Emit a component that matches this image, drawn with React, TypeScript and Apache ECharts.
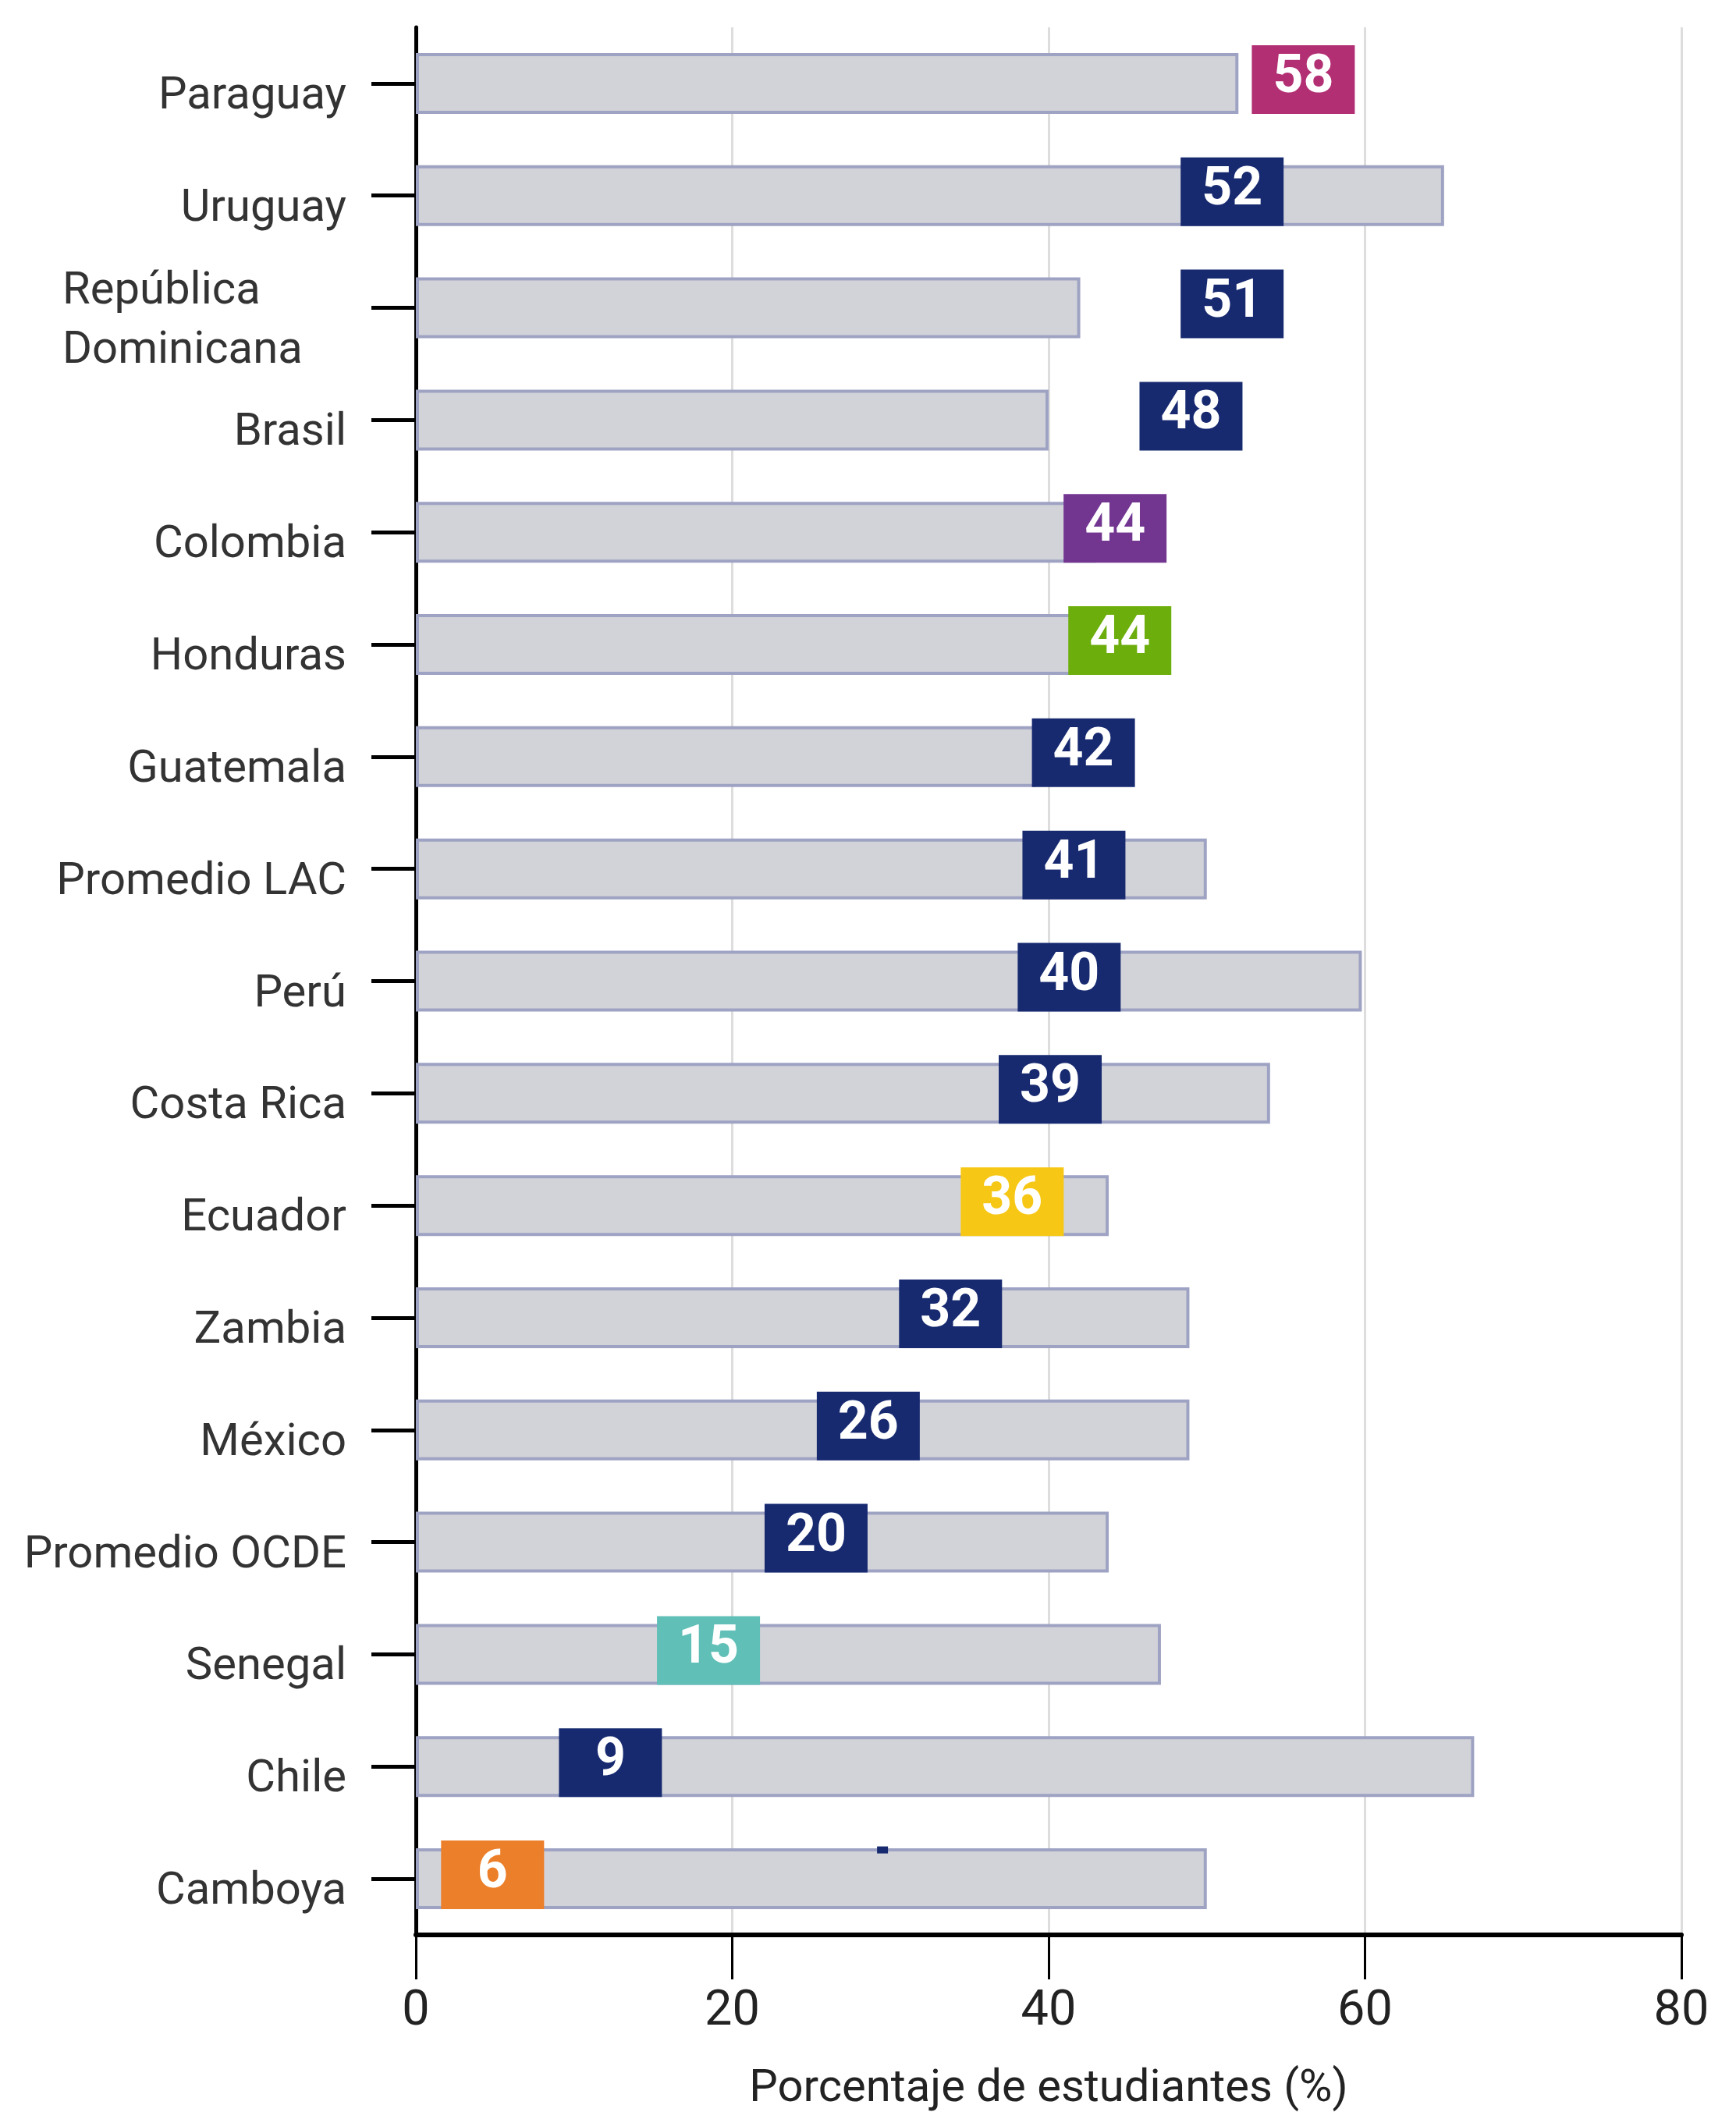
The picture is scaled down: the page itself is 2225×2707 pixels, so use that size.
import React, { useEffect, useRef } from "react";
import * as echarts from "echarts";

const categories = [
  "Paraguay",
  "Uruguay",
  "República\nDominicana",
  "Brasil",
  "Colombia",
  "Honduras",
  "Guatemala",
  "Promedio LAC",
  "Perú",
  "Costa Rica",
  "Ecuador",
  "Zambia",
  "México",
  "Promedio OCDE",
  "Senegal",
  "Chile",
  "Camboya",
];

const barValues = [52, 65, 42, 40, 43, 43, 39.2, 50, 59.8, 54, 43.8, 48.9, 48.9, 43.8, 47.1, 66.9, 50];

const labelValues = [58, 52, 51, 48, 44, 44, 42, 41, 40, 39, 36, 32, 26, 20, 15, 9, 6];

const labelPositions = [56.1, 51.6, 51.6, 49.0, 44.2, 44.5, 42.2, 41.6, 41.3, 40.1, 37.7, 33.8, 28.6, 25.3, 18.5, 12.3, 4.85];

const labelGroups = [
  "magenta", "navy", "navy", "navy", "purple", "green", "navy", "navy", "navy",
  "navy", "yellow", "navy", "navy", "navy", "teal", "navy", "orange",
];

const xTicks = [0, 20, 40, 60, 80];

const markCategory = "Camboya";
const markValue = 29.5;

const groupColors: Record<string, string> = {
  navy: "#172a70",
  magenta: "#b22f74",
  purple: "#723691",
  green: "#6cae0c",
  yellow: "#f7c716",
  teal: "#60bfb6",
  orange: "#ec7f2a",
};

export default function App() {
  const ref = useRef<HTMLDivElement>(null);

  useEffect(() => {
    if (!ref.current) return;
    const chart = echarts.init(ref.current, null, { renderer: "svg" });

    const option = {
      animation: false,
      backgroundColor: "#ffffff",
      grid: { left: 533, right: 70, top: 35, bottom: 227, containLabel: false },
      xAxis: {
        type: "value",
        min: xTicks[0],
        max: xTicks[xTicks.length - 1],
        interval: xTicks[1] - xTicks[0],
        name: "Porcentaje de estudiantes (%)",
        nameLocation: "middle",
        nameGap: 164,
        nameTextStyle: { fontFamily: "Roboto", fontSize: 58, color: "#222222" },
        axisLine: { show: true, lineStyle: { color: "#000000", width: 6 } },
        axisTick: { show: true, length: 57, lineStyle: { color: "#000000", width: 3 } },
        axisLabel: { margin: 62, fontFamily: "Roboto", fontSize: 63, color: "#222222" },
        splitLine: { show: true, lineStyle: { color: "#dddddd", width: 3 } },
      },
      yAxis: {
        type: "category",
        inverse: true,
        data: categories,
        axisLine: { show: true, lineStyle: { color: "#000000", width: 5 } },
        axisTick: { show: true, alignWithLabel: true, length: 57, lineStyle: { color: "#000000", width: 5 } },
        splitLine: { show: false },
        axisLabel: {
          margin: 89,
          padding: [24, 0, 0, 0],
          fontFamily: "Roboto",
          fontSize: 58,
          color: "#333333",
          formatter: (v: string) =>
            v.indexOf("\n") >= 0
              ? v.split("\n").map((s) => `{rd|${s}}`).join("\n")
              : v,
          rich: {
            rd: {
              width: 364,
              align: "left",
              fontFamily: "Roboto",
              fontSize: 58,
              lineHeight: 76,
              color: "#333333",
            },
          },
        },
      },
      series: [
        {
          type: "bar",
          data: barValues,
          barWidth: 78,
          itemStyle: { color: "#d2d3d8", borderColor: "#9fa3c3", borderWidth: 4 },
          z: 2,
        },
        {
          type: "scatter",
          symbol: "rect",
          symbolSize: [132, 88],
          symbolOffset: [0, -5],
          z: 5,
          data: labelPositions.map((p, i) => ({
            value: [p, categories[i]],
            label: { formatter: String(labelValues[i]) },
            itemStyle: { color: groupColors[labelGroups[i]], opacity: 1 },
          })),
          label: {
            show: true,
            position: "inside",
            offset: [0, -7],
            fontFamily: "Roboto",
            fontWeight: "bold",
            fontSize: 68,
            color: "#ffffff",
          },
        },
        {
          type: "scatter",
          symbol: "rect",
          symbolSize: [14, 9],
          symbolOffset: [0, -37],
          z: 6,
          itemStyle: { color: groupColors.navy, opacity: 1 },
          data: [[markValue, markCategory]],
        },
      ],
    };

    chart.setOption(option as any);
    return () => chart.dispose();
  }, []);

  return (
    <div
      ref={ref}
      style={{ position: "fixed", left: 0, top: 0, width: 2225, height: 2707 }}
    />
  );
}
